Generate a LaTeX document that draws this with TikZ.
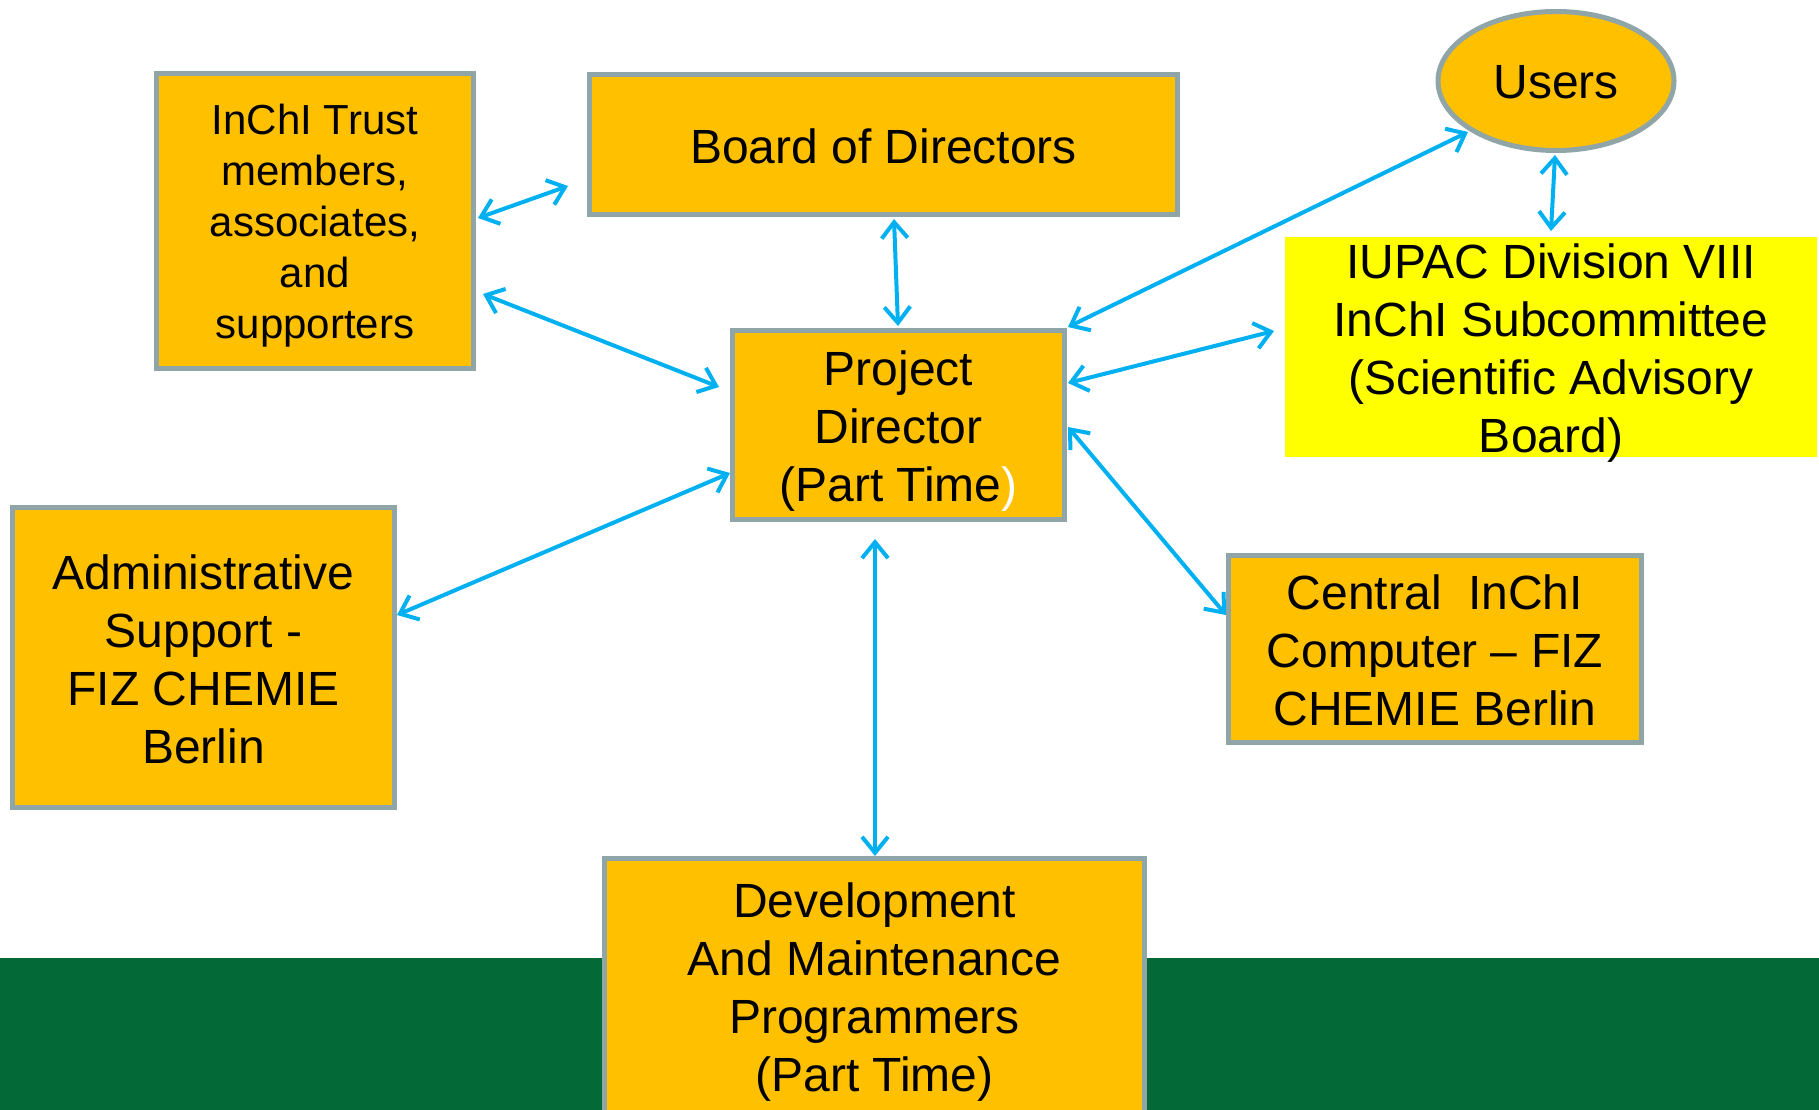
\documentclass[tikz,border=0pt]{standalone}
\usepackage{fontspec}
\setmainfont{Liberation Sans}
\usetikzlibrary{arrows.meta,shapes.geometric}
\definecolor{boxfill}{HTML}{FFC000}
\definecolor{boxline}{HTML}{8FA5A8}
\definecolor{arrowblue}{HTML}{00B0F0}
\definecolor{bandgreen}{HTML}{036937}
\definecolor{advyellow}{HTML}{FFFF00}
\tikzset{
  orgbox/.style={draw=boxline, line width=5pt, fill=boxfill, rectangle, inner sep=0pt},
  boxtext/.style={inner sep=0pt, align=center, font=\fontsize{48}{58}\selectfont},
  link/.style={draw=arrowblue, line width=4pt, {Straight Barb[length=16pt,width=26pt]}-{Straight Barb[length=16pt,width=26pt]}},
}
\begin{document}
\begin{tikzpicture}[x=1pt,y=-1pt]
\useasboundingbox (0,0) rectangle (1819,1110);
\clip (0,0) rectangle (1819,1110);
\fill[bandgreen] (0,958) rectangle (1819,1110);

\node[orgbox, minimum width=317, minimum height=295] (trust) at (315,221) {};
\node[boxtext, font=\fontsize{42}{51}\selectfont] (trusttext) at ([yshift=-5pt]trust.center) {InChI Trust\\members,\\associates,\\and\\supporters};
\node[orgbox, minimum width=588, minimum height=140] (board) at (883.5,144.5) {};
\node[boxtext] (boardtext) at ([yshift=-2pt]board.center) {Board of Directors};
\node[orgbox, ellipse, minimum width=236, minimum height=139] (users) at (1556,81) {};
\node[boxtext] (userstext) at ([yshift=-1pt]users.center) {Users};
\node[fill=advyellow, rectangle, inner sep=0pt, minimum width=532, minimum height=220] (iupac) at (1551,347) {};
\node[boxtext] (iupactext) at ([yshift=-6pt]iupac.center) {IUPAC Division VIII\\InChI Subcommittee\\(Scientific Advisory\\Board)};
\node[orgbox, minimum width=332, minimum height=189] (pd) at (898.5,425) {};
\node[boxtext] (pdtext) at ([yshift=-6pt]pd.center) {Project\\Director\\(Part Time\textcolor{white}{)}};
\node[orgbox, minimum width=382, minimum height=300] (admin) at (203.5,657.5) {};
\node[boxtext] (admintext) at ([yshift=-2pt]admin.center) {Administrative\\Support -\\FIZ CHEMIE\\Berlin};
\node[orgbox, minimum width=413, minimum height=187] (central) at (1435,649) {};
\node[boxtext] (centraltext) at ([yshift=-1pt]central.center) {Central\ \ InChI\\Computer -- FIZ\\CHEMIE Berlin};
\node[orgbox, minimum width=540, minimum height=257] (dev) at (874.5,987) {};
\node[boxtext] (devtext) at ([yshift=-5pt]dev.center) {Development\\And Maintenance\\Programmers\\(Part Time)};

\coordinate (a1s) at (478,218);
\coordinate (a1e) at (568,186);
\coordinate (a2s) at (483,294);
\coordinate (a2e) at (719,387);
\coordinate (a3s) at (894,219);
\coordinate (a3e) at (898,326);
\coordinate (a4s) at (1068,327);
\coordinate (a4e) at (1468,132);
\coordinate (a5s) at (1068,383);
\coordinate (a5e) at (1274,331);
\coordinate (a6s) at (1555,155);
\coordinate (a6e) at (1551,231);
\coordinate (a7s) at (397,615);
\coordinate (a7e) at (730,473);
\coordinate (a8s) at (1068,427);
\coordinate (a8e) at (1226,615);
\coordinate (a9s) at (875,539);
\coordinate (a9e) at (875,856);

\draw[link] (a1s) -- (a1e);
\draw[link] (a2s) -- (a2e);
\draw[link] (a3s) -- (a3e);
\draw[link] (a4s) -- (a4e);
\draw[link] (a5s) -- (a5e);
\draw[link] (a6s) -- (a6e);
\draw[link] (a7s) -- (a7e);
\draw[link] (a8s) -- (a8e);
\draw[link] (a9s) -- (a9e);
\end{tikzpicture}
\end{document}
